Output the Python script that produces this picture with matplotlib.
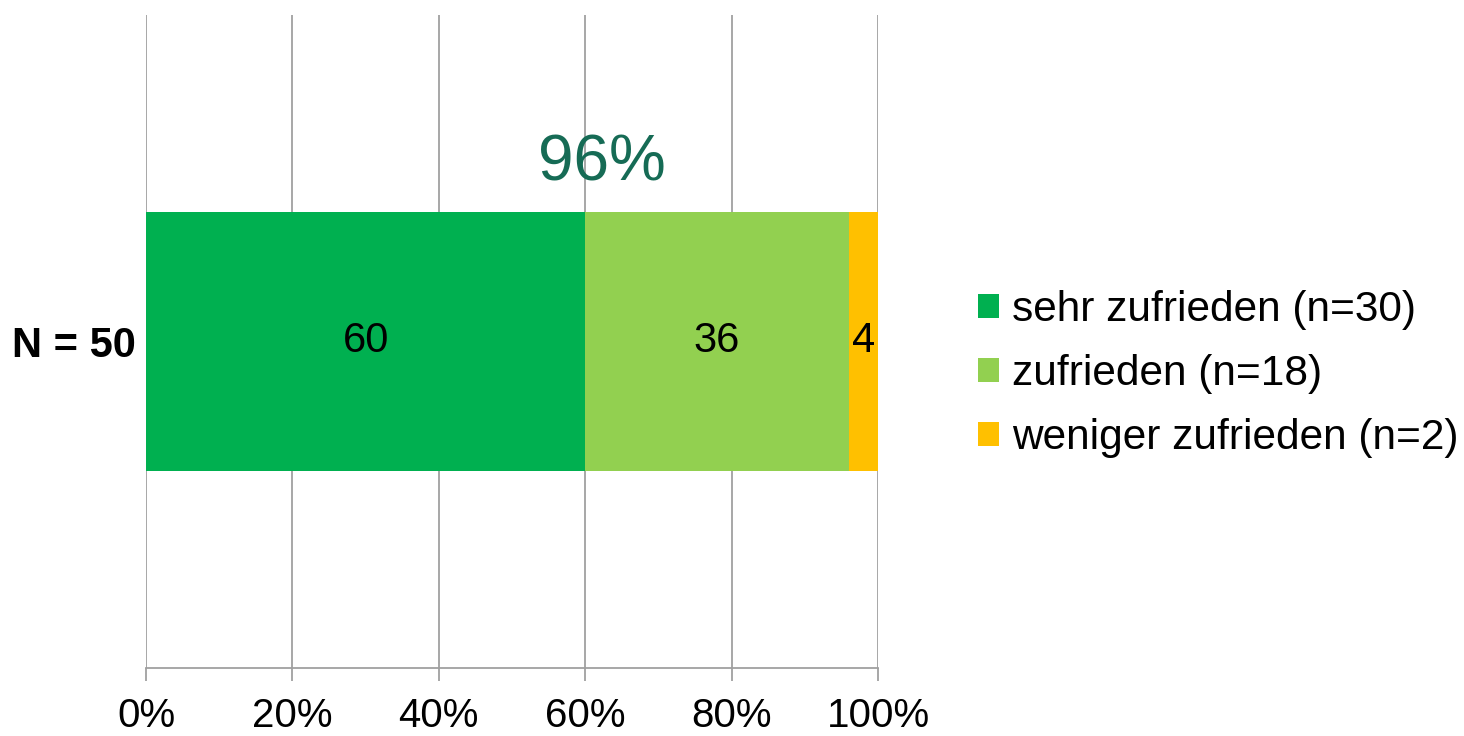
import matplotlib.pyplot as plt
import numpy as np

CATEGORY = ["N = 50"]
LABELS = ["sehr zufrieden (n=30)", "zufrieden (n=18)", "weniger zufrieden (n=2)"]
PERCENTS = [60, 36, 4]
COLORS = ["#00B050", "#92D050", "#FFC000"]
TOTAL_LABEL = "96%"
XTICKS = [0, 20, 40, 60, 80, 100]

plt.rcParams.update({
    "font.family": ["Liberation Sans", "DejaVu Sans"],
    "font.size": 29,
})

fig = plt.figure(figsize=(14.64, 7.36), dpi=100)
ax = fig.add_axes([146 / 1464, 68 / 736, 732 / 1464, 653 / 736])

left = 0
for val, col, lab in zip(PERCENTS, COLORS, LABELS):
    ax.barh(0, val, left=left, height=0.397, color=col, label=lab, zorder=2)
    ax.text(left + val / 2, 0, str(val), ha="center", va="center",
            fontsize=30, color="black", zorder=3)
    left += val

ax.text(62.3, 0.273, TOTAL_LABEL, ha="center", va="center",
        fontsize=46, color="#166B55")

ax.set_xlim(0, 100)
ax.set_ylim(-0.5, 0.5)
ax.set_xticks(XTICKS)
ax.set_xticklabels([f"{t}%" for t in XTICKS])
ax.set_yticks([0])
ax.set_yticklabels(CATEGORY, fontweight="bold", fontsize=30)

ax.grid(axis="x", color="#A0A0A0", linewidth=1.3, zorder=1)
for s in ["top", "right", "left"]:
    ax.spines[s].set_visible(False)
ax.spines["bottom"].set_color("#A0A0A0")
ax.spines["bottom"].set_linewidth(1.3)
ax.tick_params(axis="x", direction="out", length=9, width=1.3,
               color="#A0A0A0", pad=12, labelsize=29)
ax.tick_params(axis="y", length=0, pad=7)

ax.legend(loc="center left", bbox_to_anchor=(978 / 1464, 1 - 374 / 736),
          bbox_transform=fig.transFigure, frameon=False, fontsize=30.5,
          handlelength=0.5, handleheight=0.5, handletextpad=0.3,
          labelspacing=0.56, borderpad=0, borderaxespad=0)

fig.savefig("out.png", dpi=100)
